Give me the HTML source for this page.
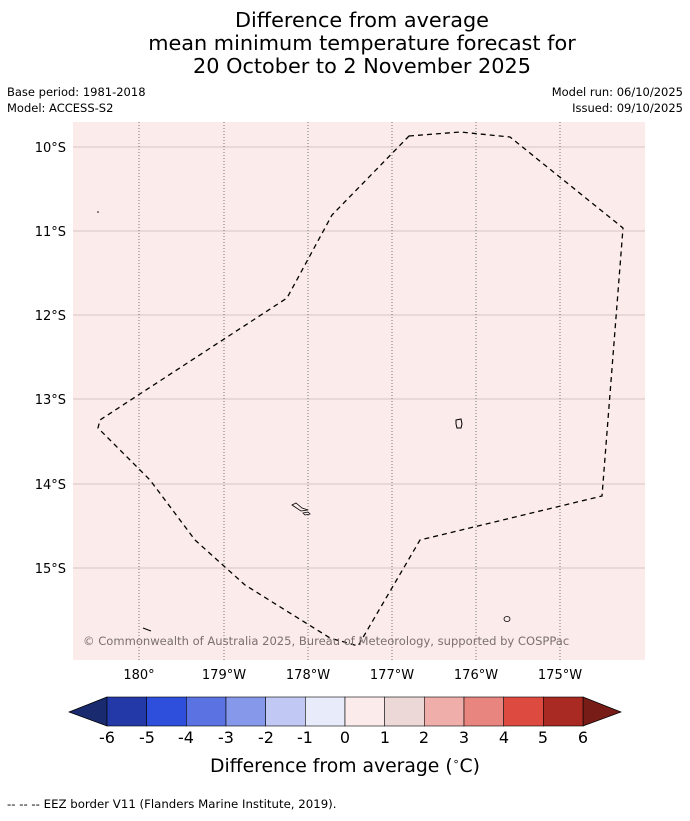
<!DOCTYPE html>
<html><head><style>
body{margin:0;background:#fff;width:690px;height:816px;overflow:hidden;font-family:"Liberation Sans","DejaVu Sans",sans-serif}
</style></head><body>
<svg width="690" height="816" xmlns="http://www.w3.org/2000/svg" font-family="DejaVu Sans, Liberation Sans, sans-serif">
<text x="362" y="27" font-size="20.8" text-anchor="middle">Difference from average</text>
<text x="362" y="50" font-size="20.8" text-anchor="middle">mean minimum temperature forecast for</text>
<text x="362" y="73" font-size="20.8" text-anchor="middle">20 October to 2 November 2025</text>
<text x="7" y="96" font-size="11.5">Base period: 1981-2018</text>
<text x="7" y="112" font-size="11.5">Model: ACCESS-S2</text>
<text x="683" y="96" font-size="11.5" text-anchor="end">Model run: 06/10/2025</text>
<text x="683" y="112" font-size="11.5" text-anchor="end">Issued: 09/10/2025</text>
<rect x="73" y="122" width="572" height="538" fill="#fbebea"/>
<g stroke="#cdb9ba" stroke-width="0.8">
<line x1="73" y1="147" x2="645" y2="147"/><line x1="73" y1="231" x2="645" y2="231"/><line x1="73" y1="315" x2="645" y2="315"/><line x1="73" y1="399" x2="645" y2="399"/><line x1="73" y1="484" x2="645" y2="484"/><line x1="73" y1="568" x2="645" y2="568"/>
</g>
<g stroke="#777" stroke-width="1" stroke-dasharray="1,2">
<line x1="139" y1="122" x2="139" y2="660"/><line x1="224" y1="122" x2="224" y2="660"/><line x1="308" y1="122" x2="308" y2="660"/><line x1="392" y1="122" x2="392" y2="660"/><line x1="476" y1="122" x2="476" y2="660"/><line x1="560" y1="122" x2="560" y2="660"/>
</g>
<polygon points="409,136 460,132 510,137 623,228 602,496 420,540 358,646 330,638 245,585 195,540 150,480 98,428 100,420 287,298 332,215 409,136" fill="none" stroke="#000" stroke-width="1.3" stroke-dasharray="5,4"/>
<path d="M456,420 l5,-1 1,5 -1,4 -4,0 -1,-4z" fill="none" stroke="#000"/>
<path d="M292,505 l4,-2 6,5 6,2 -7,1z M303,513 l5,-1 2,2 -5,1z" fill="none" stroke="#000" stroke-width="0.8"/>
<ellipse cx="507" cy="619" rx="3" ry="2.5" fill="none" stroke="#000" stroke-width="0.8"/>
<path d="M143,628 l8,3" stroke="#000"/>
<circle cx="98" cy="212" r="0.8"/>
<text x="83" y="645" font-size="11.55" fill="#7a7070">© Commonwealth of Australia 2025, Bureau of Meteorology, supported by COSPPac</text>
<g font-size="13" text-anchor="end">
<text x="66" y="152">10°S</text><text x="66" y="236">11°S</text><text x="66" y="320">12°S</text><text x="66" y="404">13°S</text><text x="66" y="489">14°S</text><text x="66" y="573">15°S</text>
</g>
<g font-size="13" text-anchor="middle">
<text x="139" y="679">180°</text><text x="224" y="679">179°W</text><text x="308" y="679">178°W</text><text x="392" y="679">177°W</text><text x="476" y="679">176°W</text><text x="560" y="679">175°W</text>
</g>
<polygon points="107,697 69,712 107,726" fill="#1a2a6e" stroke="#000" stroke-width="0.7"/>
<polygon points="583,697 621,712 583,726" fill="#781c18" stroke="#000" stroke-width="0.7"/>
<g stroke="#000" stroke-width="0.6">
<rect x="107" y="697" width="39.7" height="29" fill="#2439a8"/>
<rect x="146.7" y="697" width="39.7" height="29" fill="#2e4fdc"/>
<rect x="186.3" y="697" width="39.7" height="29" fill="#5a72e2"/>
<rect x="226" y="697" width="39.7" height="29" fill="#8598ea"/>
<rect x="265.7" y="697" width="39.7" height="29" fill="#c0c8f3"/>
<rect x="305.3" y="697" width="39.7" height="29" fill="#e8ebfa"/>
<rect x="345" y="697" width="39.7" height="29" fill="#fbebea"/>
<rect x="384.7" y="697" width="39.7" height="29" fill="#ecd8d7"/>
<rect x="424.3" y="697" width="39.7" height="29" fill="#efaeaa"/>
<rect x="464" y="697" width="39.7" height="29" fill="#e8857e"/>
<rect x="503.7" y="697" width="39.7" height="29" fill="#dc4a40"/>
<rect x="543.3" y="697" width="39.7" height="29" fill="#a92a22"/>
</g>
<g font-size="16" text-anchor="middle">
<text x="107" y="743">-6</text><text x="147" y="743">-5</text><text x="186" y="743">-4</text><text x="226" y="743">-3</text><text x="266" y="743">-2</text><text x="305" y="743">-1</text><text x="345" y="743">0</text><text x="385" y="743">1</text><text x="424" y="743">2</text><text x="464" y="743">3</text><text x="504" y="743">4</text><text x="543" y="743">5</text><text x="583" y="743">6</text>
</g>
<text x="345" y="772" font-size="18.8" text-anchor="middle">Difference from average (<tspan font-size="11" dy="-7">∘</tspan><tspan dy="7">C)</tspan></text>
<text x="7" y="808" font-size="11.75">--  --  -- EEZ border V11 (Flanders Marine Institute, 2019).</text>
</svg>
</body></html>
